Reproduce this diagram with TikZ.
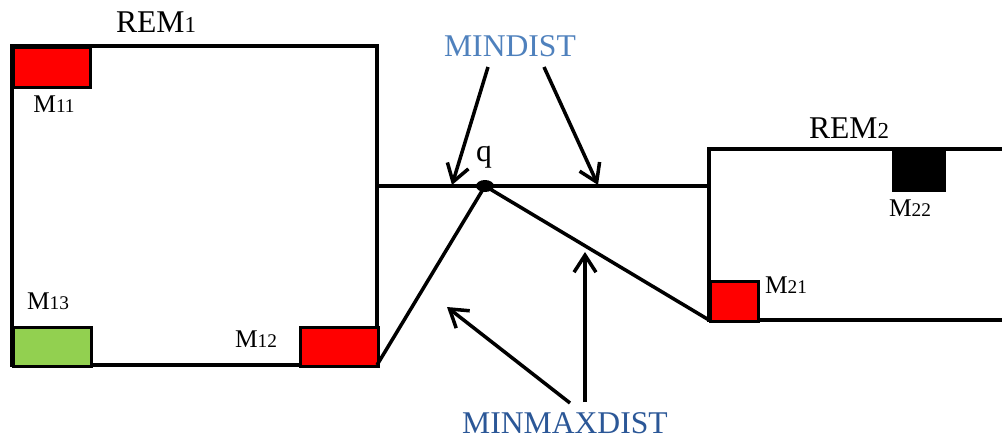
\documentclass[tikz,border=0pt]{standalone}
\usepackage{fontspec}
\setmainfont{Liberation Serif}
\usetikzlibrary{arrows.meta,shapes.geometric}
\definecolor{mgreen}{HTML}{92D050}
\definecolor{minblue}{HTML}{4F81BD}
\definecolor{maxblue}{HTML}{2B5797}
\newcommand{\bigsub}[2]{#1{\fontsize{13}{15}\selectfont #2}}
\newcommand{\smallsub}[2]{#1{\fontsize{11}{13}\selectfont #2}}
\begin{document}
\begin{tikzpicture}[
	edge/.style={ line width=2pt },
	mbox/.style={ draw, line width=1.8pt, anchor=north west, inner sep=0pt },
	mlbl/.style={ font=\fontsize{14.5}{17}\selectfont },
	remlbl/.style={ font=\fontsize{18}{21}\selectfont },
	ptr/.style={ line width=2pt, -{Straight Barb[length=3.4mm,width=4.4mm,line width=2pt]} },
	qdot/.style={ ellipse, fill, inner sep=0pt, minimum width=0.36cm, minimum height=0.24cm }
]
\useasboundingbox (0,0) rectangle (20.04,8.82);

% rectangles
\draw[edge] (0.24,1.52) rectangle (7.54,7.9);
\draw[edge] (20.04,5.84) -- (14.18,5.84) -- (14.18,2.42) -- (20.04,2.42);
\draw[edge] (7.54,5.1) -- (14.18,5.1);

\node at (3.12,8.38) (rem1) [remlbl] {\bigsub{REM}{1}};
\node at (16.98,6.26) (rem2) [remlbl] {\bigsub{REM}{2}};

% objects
\node at (0.24,7.9) (m11) [mbox,fill=red,minimum width=1.54cm,minimum height=0.8cm] {};
\node at (0.24,2.3) (m13) [mbox,fill=mgreen,minimum width=1.56cm,minimum height=0.78cm] {};
\node at (5.98,2.3) (m12) [mbox,fill=red,minimum width=1.56cm,minimum height=0.78cm] {};
\node at (17.84,5.84) (m22) [mbox,fill=black,minimum width=1.02cm,minimum height=0.8cm] {};
\node at (14.18,3.22) (m21) [mbox,fill=red,minimum width=0.96cm,minimum height=0.8cm] {};

\node at (1.08,6.74) [mlbl] {\smallsub{M}{11}};
\node at (0.96,2.8) [mlbl] {\smallsub{M}{13}};
\node at (5.12,2.04) [mlbl] {\smallsub{M}{12}};
\node at (18.2,4.66) [mlbl] {\smallsub{M}{22}};
\node at (15.72,3.12) [mlbl] {\smallsub{M}{21}};

% query point
\node at (9.7,5.1) (q) [qdot] {};
\node at (9.68,5.68) (qlbl) [remlbl] {q};
\coordinate (c1) at (7.54,1.52);
\coordinate (c2) at (14.18,2.42);
\draw[edge] (q.center) -- (c1);
\draw[edge] (q.center) -- (c2);

% distances
\node at (10.2,7.9) (mindist) [remlbl,text=minblue] {MINDIST};
\node at (11.3,0.36) (minmax) [remlbl,text=maxblue] {MINMAXDIST};
\coordinate (a1) at (9.76,7.48);
\coordinate (a2) at (10.88,7.48);
\coordinate (t1) at (9.04,5.12);
\coordinate (t2) at (11.96,5.12);
\coordinate (b1) at (11.4,0.76);
\coordinate (b2) at (11.7,0.78);
\coordinate (u1) at (8.94,2.68);
\coordinate (u2) at (11.7,3.78);
\draw[ptr] (a1) -- (t1);
\draw[ptr] (a2) -- (t2);
\draw[ptr] (b1) -- (u1);
\draw[ptr] (b2) -- (u2);

\end{tikzpicture}
\end{document}
